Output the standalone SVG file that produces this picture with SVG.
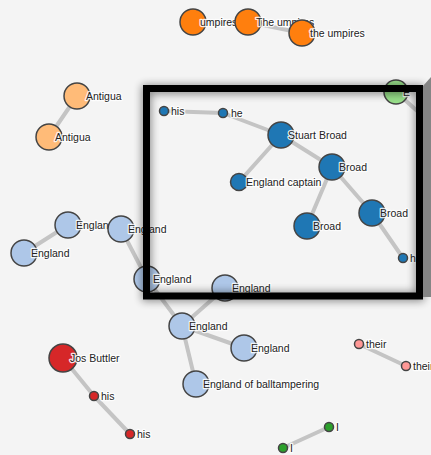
<svg xmlns="http://www.w3.org/2000/svg" width="431" height="455" viewBox="0 0 431 455">
  <style>
    .link { stroke: #c4c4c4; stroke-width: 4; stroke-linecap: round; }
    .node circle { stroke: #444; stroke-width: 1.5; }
    .node text { font-family: "Liberation Sans", Arial, sans-serif; font-size: 10.5px; fill: #222;
                 stroke: #fff; stroke-width: 2.5; stroke-opacity: 0.85; paint-order: stroke; stroke-linejoin: round; }
    .c-orange { fill: #ff7f0e; }
    .c-lorange { fill: #ffbb78; }
    .c-blue { fill: #1f77b4; }
    .c-lblue { fill: #aec7e8; }
    .c-red { fill: #d62728; }
    .c-pink { fill: #ff9896; }
    .c-green { fill: #2ca02c; }
    .c-lgreen { fill: #98df8a; }
  </style>
  <defs>
    <filter id="soft" x="-10%" y="-10%" width="120%" height="120%">
      <feGaussianBlur stdDeviation="4"/>
    </filter>
  </defs>

  <rect width="431" height="455" fill="#f4f4f4"/>

  <!-- connectors -->
  <g id="links">
    <line class="link" x1="193" y1="22" x2="248" y2="22"/>
    <line class="link" x1="248" y1="22" x2="302" y2="33"/>
    <line class="link" x1="77" y1="96" x2="49" y2="137"/>
    <line class="link" x1="164" y1="111" x2="223" y2="113"/>
    <line class="link" x1="223" y1="113" x2="281" y2="135"/>
    <line class="link" x1="281" y1="135" x2="239" y2="182"/>
    <line class="link" x1="281" y1="135" x2="332" y2="167"/>
    <line class="link" x1="332" y1="167" x2="307" y2="226"/>
    <line class="link" x1="332" y1="167" x2="372" y2="213"/>
    <line class="link" x1="372" y1="213" x2="403" y2="258"/>
    <line class="link" x1="396" y1="92" x2="425" y2="118"/>
    <line class="link" x1="24" y1="253" x2="68" y2="225"/>
    <line class="link" x1="68" y1="225" x2="121" y2="229"/>
    <line class="link" x1="121" y1="229" x2="147" y2="279"/>
    <line class="link" x1="147" y1="279" x2="182" y2="326"/>
    <line class="link" x1="225" y1="288" x2="182" y2="326"/>
    <line class="link" x1="182" y1="326" x2="244" y2="348"/>
    <line class="link" x1="182" y1="326" x2="196" y2="384"/>
    <line class="link" x1="63" y1="358" x2="94" y2="396"/>
    <line class="link" x1="94" y1="396" x2="130" y2="434"/>
    <line class="link" x1="359" y1="344" x2="406" y2="366"/>
    <line class="link" x1="329" y1="427" x2="283" y2="448"/>
  </g>

  <!-- nodes -->
  <g id="n-umpires" class="node"><circle class="c-orange" cx="193" cy="22" r="13"/><text x="200" y="26">umpires</text></g>
  <g id="n-the-umpires-1" class="node"><circle class="c-orange" cx="248" cy="22" r="13"/><text x="256" y="26">The umpires</text></g>
  <g id="n-the-umpires-2" class="node"><circle class="c-orange" cx="302" cy="33" r="13"/><text x="310" y="37">the umpires</text></g>

  <g id="n-antigua-1" class="node"><circle class="c-lorange" cx="77" cy="96" r="13"/><text x="86" y="100">Antigua</text></g>
  <g id="n-antigua-2" class="node"><circle class="c-lorange" cx="49" cy="137" r="13"/><text x="55" y="141">Antigua</text></g>

  <g id="n-his-blue" class="node"><circle class="c-blue" cx="164" cy="111" r="4.5"/><text x="171" y="115">his</text></g>
  <g id="n-he" class="node"><circle class="c-blue" cx="223" cy="113" r="4.5"/><text x="231" y="117">he</text></g>
  <g id="n-stuart-broad" class="node"><circle class="c-blue" cx="281" cy="135" r="13"/><text x="288" y="139">Stuart Broad</text></g>
  <g id="n-england-captain" class="node"><circle class="c-blue" cx="239" cy="182" r="8.5"/><text x="246" y="186">England captain</text></g>
  <g id="n-broad-1" class="node"><circle class="c-blue" cx="332" cy="167" r="13"/><text x="339" y="171">Broad</text></g>
  <g id="n-broad-2" class="node"><circle class="c-blue" cx="307" cy="226" r="13"/><text x="313" y="230">Broad</text></g>
  <g id="n-broad-3" class="node"><circle class="c-blue" cx="372" cy="213" r="13"/><text x="380" y="217">Broad</text></g>
  <g id="n-h" class="node"><circle class="c-blue" cx="403" cy="258" r="4.5"/><text x="410" y="262">h</text></g>

  <g id="n-green-top" class="node"><circle class="c-lgreen" cx="396" cy="92" r="12"/><text x="403" y="96">E</text></g>

  <g id="n-england-1" class="node"><circle class="c-lblue" cx="24" cy="253" r="13"/><text x="31" y="257">England</text></g>
  <g id="n-england-2" class="node"><circle class="c-lblue" cx="68" cy="225" r="13"/><text x="76" y="229">England</text></g>
  <g id="n-england-3" class="node"><circle class="c-lblue" cx="121" cy="229" r="13"/><text x="128" y="233">England</text></g>
  <g id="n-england-4" class="node"><circle class="c-lblue" cx="147" cy="279" r="13"/><text x="153" y="283">England</text></g>
  <g id="n-england-5" class="node"><circle class="c-lblue" cx="225" cy="288" r="13"/><text x="232" y="292">England</text></g>
  <g id="n-england-6" class="node"><circle class="c-lblue" cx="182" cy="326" r="13"/><text x="189" y="330">England</text></g>
  <g id="n-england-7" class="node"><circle class="c-lblue" cx="244" cy="348" r="13"/><text x="251" y="352">England</text></g>
  <g id="n-england-balltampering" class="node"><circle class="c-lblue" cx="196" cy="384" r="13"/><text x="203" y="388">England of balltampering</text></g>

  <g id="n-jos-buttler" class="node"><circle class="c-red" cx="63" cy="358" r="14"/><text x="70" y="362">Jos Buttler</text></g>
  <g id="n-his-red-1" class="node"><circle class="c-red" cx="94" cy="396" r="4.5"/><text x="101" y="400">his</text></g>
  <g id="n-his-red-2" class="node"><circle class="c-red" cx="130" cy="434" r="4.5"/><text x="137" y="438">his</text></g>

  <g id="n-their-1" class="node"><circle class="c-pink" cx="359" cy="344" r="4.5"/><text x="366" y="348">their</text></g>
  <g id="n-their-2" class="node"><circle class="c-pink" cx="406" cy="366" r="4.5"/><text x="413" y="370">their</text></g>

  <g id="n-i-1" class="node"><circle class="c-green" cx="329" cy="427" r="4.5"/><text x="336" y="431">I</text></g>
  <g id="n-i-2" class="node"><circle class="c-green" cx="283" cy="448" r="4.5"/><text x="290" y="452">I</text></g>

  <!-- focus frame with soft shadow -->
  <g id="focus-frame">
    <rect x="146.5" y="89.5" width="273" height="207" fill="none" stroke="#000" stroke-width="9" opacity="0.45" filter="url(#soft)"/>
    <polygon points="423,86 431,77 431,297 423,297" fill="#858585"/>
    <rect x="146.5" y="88.5" width="273" height="207.5" fill="none" stroke="#000" stroke-width="7"/>
  </g>
</svg>
